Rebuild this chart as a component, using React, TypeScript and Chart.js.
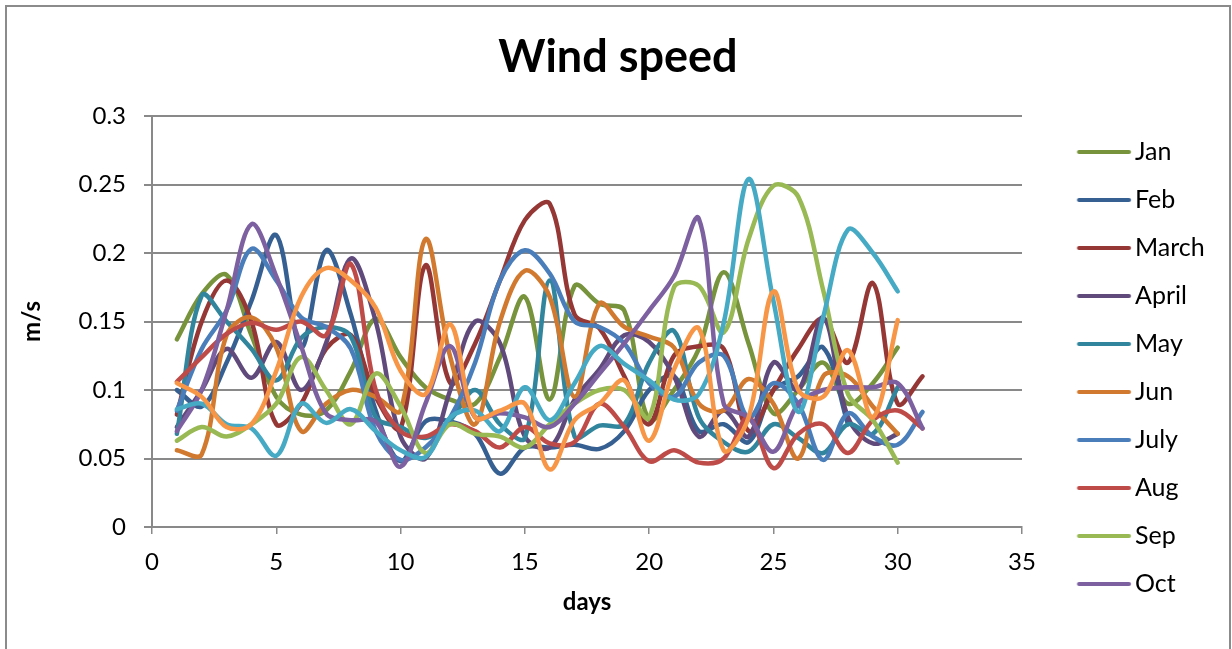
import React, { useEffect, useRef } from 'react';
import { Chart, registerables } from 'chart.js';

Chart.register(...registerables);

// Daily mean wind speed (m/s) per month; day n is index n-1
const janSpeed = [0.137, 0.170, 0.184, 0.140, 0.095, 0.082, 0.085, 0.114, 0.152, 0.124, 0.102, 0.093, 0.090, 0.124, 0.168, 0.093, 0.176, 0.163, 0.158, 0.078, 0.100, 0.130, 0.186, 0.134, 0.083, 0.100, 0.120, 0.090, 0.105, 0.131];
const febSpeed = [0.100, 0.088, 0.120, 0.165, 0.213, 0.131, 0.202, 0.155, 0.085, 0.048, 0.077, 0.077, 0.068, 0.039, 0.058, 0.058, 0.060, 0.057, 0.070, 0.100, 0.110, 0.070, 0.075, 0.062, 0.100, 0.110, 0.131, 0.075];
const marSpeed = [0.082, 0.150, 0.180, 0.150, 0.075, 0.090, 0.130, 0.140, 0.095, 0.072, 0.191, 0.105, 0.134, 0.180, 0.224, 0.236, 0.155, 0.145, 0.110, 0.075, 0.125, 0.132, 0.130, 0.070, 0.100, 0.130, 0.152, 0.120, 0.178, 0.090, 0.110];
const aprSpeed = [0.073, 0.100, 0.130, 0.109, 0.135, 0.100, 0.134, 0.196, 0.150, 0.066, 0.050, 0.100, 0.150, 0.134, 0.066, 0.058, 0.093, 0.115, 0.140, 0.135, 0.110, 0.066, 0.085, 0.066, 0.120, 0.100, 0.153, 0.080, 0.061, 0.068];
const maySpeed = [0.068, 0.169, 0.150, 0.130, 0.107, 0.138, 0.146, 0.139, 0.080, 0.073, 0.065, 0.078, 0.100, 0.075, 0.065, 0.180, 0.066, 0.074, 0.075, 0.120, 0.143, 0.080, 0.062, 0.055, 0.075, 0.065, 0.054, 0.075, 0.068, 0.102];
const junSpeed = [0.056, 0.053, 0.140, 0.153, 0.131, 0.070, 0.090, 0.100, 0.095, 0.085, 0.210, 0.124, 0.075, 0.150, 0.187, 0.168, 0.095, 0.163, 0.146, 0.139, 0.131, 0.090, 0.085, 0.108, 0.090, 0.050, 0.110, 0.110, 0.088, 0.068];
const julSpeed = [0.085, 0.130, 0.158, 0.203, 0.180, 0.153, 0.146, 0.130, 0.070, 0.049, 0.058, 0.080, 0.120, 0.180, 0.202, 0.185, 0.150, 0.146, 0.134, 0.105, 0.095, 0.120, 0.125, 0.080, 0.105, 0.090, 0.049, 0.083, 0.066, 0.060, 0.084];
const augSpeed = [0.106, 0.124, 0.141, 0.149, 0.144, 0.150, 0.140, 0.192, 0.100, 0.070, 0.066, 0.075, 0.070, 0.058, 0.073, 0.061, 0.062, 0.090, 0.073, 0.048, 0.056, 0.047, 0.050, 0.080, 0.043, 0.068, 0.075, 0.054, 0.078, 0.085, 0.072];
const sepSpeed = [0.063, 0.073, 0.066, 0.075, 0.090, 0.124, 0.100, 0.075, 0.112, 0.088, 0.054, 0.075, 0.068, 0.066, 0.058, 0.075, 0.090, 0.100, 0.100, 0.080, 0.175, 0.176, 0.142, 0.210, 0.249, 0.241, 0.173, 0.097, 0.078, 0.047];
const octSpeed = [0.070, 0.100, 0.158, 0.221, 0.183, 0.132, 0.083, 0.078, 0.077, 0.044, 0.090, 0.132, 0.080, 0.083, 0.080, 0.073, 0.090, 0.112, 0.134, 0.158, 0.183, 0.225, 0.090, 0.080, 0.055, 0.090, 0.100, 0.102, 0.102, 0.105, 0.072];
const novSpeed = [0.086, 0.090, 0.075, 0.072, 0.052, 0.090, 0.076, 0.086, 0.070, 0.056, 0.051, 0.080, 0.085, 0.070, 0.102, 0.078, 0.105, 0.132, 0.119, 0.107, 0.093, 0.097, 0.149, 0.254, 0.165, 0.084, 0.153, 0.217, 0.200, 0.172];
const decSpeed = [0.105, 0.095, 0.073, 0.075, 0.114, 0.168, 0.189, 0.180, 0.160, 0.114, 0.097, 0.148, 0.080, 0.085, 0.090, 0.042, 0.078, 0.090, 0.107, 0.063, 0.115, 0.145, 0.056, 0.080, 0.172, 0.100, 0.095, 0.129, 0.080, 0.151];

const monthNames = ['Jan', 'Feb', 'March', 'April', 'May', 'Jun', 'July', 'Aug', 'Sep', 'Oct', 'Nov', 'Dec'];
const monthSeries = [janSpeed, febSpeed, marSpeed, aprSpeed, maySpeed, junSpeed, julSpeed, augSpeed, sepSpeed, octSpeed, novSpeed, decSpeed];
const monthColors = ['#77933C', '#376092', '#953735', '#604A7B', '#31859C', '#D1792E', '#4A7EBB', '#BE4B48', '#98B954', '#7D60A0', '#46AAC5', '#F79646'];
const legendCount = 10; // only the first ten months are listed in the legend

const FONT = 'Lato, "Open Sans", sans-serif';
const CANVAS_W = 1222;
const CANVAS_H = 722;
const LEGEND_FONT = 25;
const LEGEND_PAD = 23;
const LEGEND_BOX = 77.5;
const LEGEND_SPACE = 207;
const Y_AXIS_W = 145;

// Legend swatch: a short rounded line, offset inside the image so it sits left of the label
function lineSwatch(color: string): HTMLCanvasElement {
  const c = document.createElement('canvas');
  c.width = 96;
  c.height = 8;
  const g = c.getContext('2d')!;
  g.strokeStyle = color;
  g.lineWidth = 4;
  g.lineCap = 'round';
  g.beginPath();
  g.moveTo(43.25, 4);
  g.lineTo(93.25, 4);
  g.stroke();
  return c;
}

const formatTick = (v: number | string) => String(parseFloat(Number(v).toFixed(2)));

export default function App() {
  const canvasRef = useRef<HTMLCanvasElement>(null);

  useEffect(() => {
    const canvas = canvasRef.current;
    if (!canvas) return;

    // Reserve a fixed band on the right for the legend (Chart.js adds 10px to vertical legends)
    const measure = canvas.getContext('2d')!;
    measure.font = `${LEGEND_FONT}px ${FONT}`;
    const widest = Math.max(...monthNames.slice(0, legendCount).map((t) => measure.measureText(t).width));
    const legendWidth = LEGEND_PAD + LEGEND_BOX + LEGEND_FONT / 2 + widest + 10;
    const padSide = Math.max(0, LEGEND_SPACE - legendWidth);

    const swatches = monthColors.map(lineSwatch);

    const datasets = monthSeries.map((vals, i) => ({
      label: monthNames[i],
      data: vals.map((v, k) => ({ x: k + 1, y: v })),
      borderColor: monthColors[i],
      backgroundColor: monthColors[i],
      borderWidth: 4.5,
      pointRadius: 0,
      pointHoverRadius: 0,
      tension: 0.35,
      fill: false,
      borderCapStyle: 'round' as const,
      borderJoinStyle: 'round' as const,
      order: monthSeries.length - 1 - i,
    }));

    const tickFont = { family: FONT, size: 24 };
    const axisTitleFont = { family: FONT, size: 24, weight: 'bold' as const };
    const gridColor = '#898989';

    const chart = new Chart(canvas, {
      type: 'line',
      data: { datasets },
      options: {
        responsive: false,
        animation: false,
        events: [],
        layout: { padding: { left: padSide, top: 0, right: padSide, bottom: 0 } },
        plugins: {
          title: {
            display: true,
            text: 'Wind speed',
            color: '#000',
            font: { family: FONT, size: 45, weight: 'bold' },
            padding: { top: 23, bottom: 32 },
          },
          legend: {
            position: 'right',
            maxWidth: LEGEND_SPACE,
            labels: {
              usePointStyle: true,
              pointStyleWidth: LEGEND_BOX,
              padding: LEGEND_PAD,
              color: '#000',
              font: { family: FONT, size: LEGEND_FONT },
              generateLabels: (ch: any) => {
                const base = Chart.defaults.plugins.legend.labels.generateLabels(ch);
                return base
                  .filter((it: any) => it.datasetIndex < legendCount)
                  .sort((a: any, b: any) => a.datasetIndex - b.datasetIndex)
                  .map((it: any) => ({ ...it, pointStyle: swatches[it.datasetIndex] }));
              },
            },
          },
          tooltip: { enabled: false },
        },
        scales: {
          x: {
            type: 'linear',
            min: 0,
            max: 35,
            ticks: { stepSize: 5, padding: 14, color: '#000', font: tickFont },
            grid: { drawOnChartArea: false, drawTicks: true, tickLength: 7, color: gridColor, lineWidth: 1.5 },
            border: { color: gridColor, width: 2 },
            title: { display: true, text: 'days', color: '#000', font: axisTitleFont, padding: { top: 0, bottom: 112.6 } },
            afterFit: (s: any) => {
              s.height = 202;
            },
          },
          y: {
            min: 0,
            max: 0.3,
            ticks: { stepSize: 0.05, padding: 18, color: '#000', font: tickFont, callback: formatTick },
            grid: { color: gridColor, lineWidth: 2, tickLength: 8 },
            border: { color: gridColor, width: 2 },
            title: { display: true, text: 'm/s', color: '#000', font: axisTitleFont, padding: { top: 25 - 14.4 - padSide, bottom: 0 } },
            afterFit: (s: any) => {
              s.width = Y_AXIS_W - padSide;
            },
          },
        },
      },
    });

    return () => chart.destroy();
  }, []);

  return (
    <div style={{ position: 'fixed', left: 0, top: 0, width: 1232, height: 649, overflow: 'hidden', background: '#fff' }}>
      <div
        style={{
          position: 'absolute',
          left: 5,
          top: 5,
          width: CANVAS_W + 4,
          height: CANVAS_H + 4,
          border: '2px solid #8b8b8b',
          boxSizing: 'border-box',
        }}
      >
        <canvas ref={canvasRef} width={CANVAS_W} height={CANVAS_H} style={{ display: 'block', width: CANVAS_W, height: CANVAS_H }} />
      </div>
    </div>
  );
}
